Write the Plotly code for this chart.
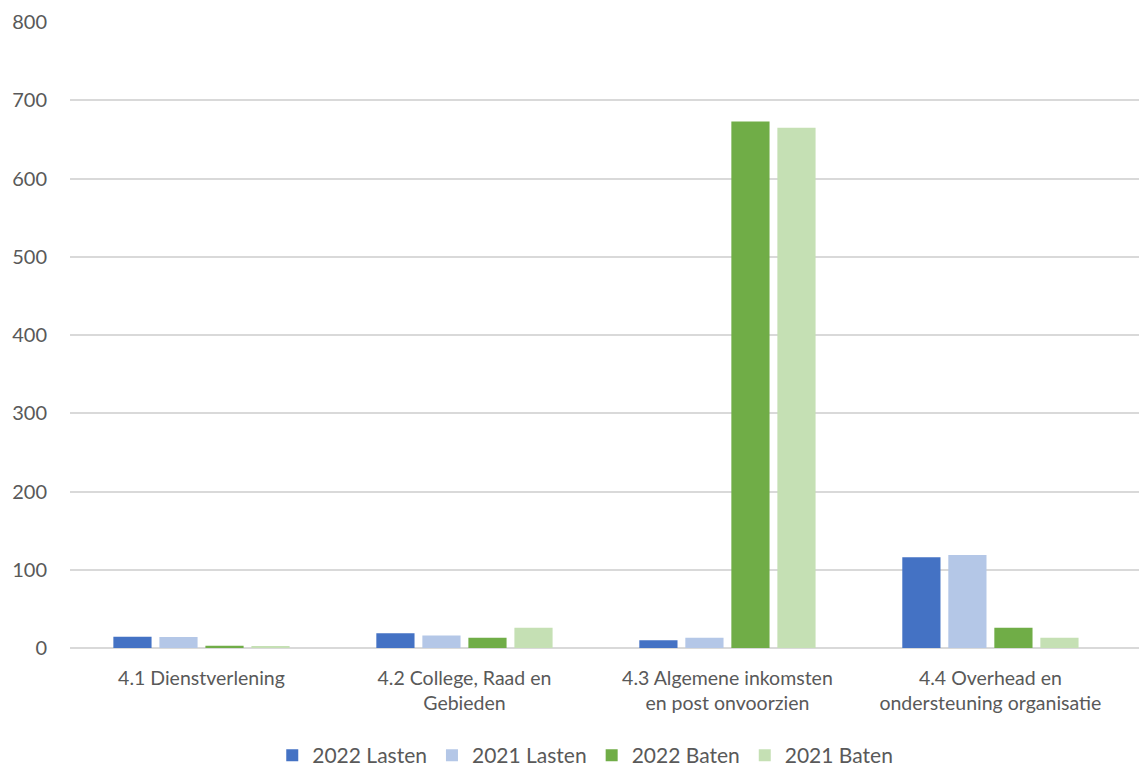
import plotly.graph_objects as go

categories = [
    "4.1 Dienstverlening",
    "4.2 College, Raad en<br>Gebieden",
    "4.3 Algemene inkomsten<br>en post onvoorzien",
    "4.4 Overhead en<br>ondersteuning organisatie",
]
series_names = ["2022 Lasten", "2021 Lasten", "2022 Baten", "2021 Baten"]
lasten_2022 = [14.5, 19, 10, 116]
lasten_2021 = [14, 16, 13, 119]
baten_2022 = [3, 13, 673, 26]
baten_2021 = [2.5, 26, 665, 13]
y_ticks = [0, 100, 200, 300, 400, 500, 600, 700, 800]

colors = ["#4472C4", "#B4C7E7", "#70AD47", "#C5E0B4"]
values = [lasten_2022, lasten_2021, baten_2022, baten_2021]

fig = go.Figure()
for name, vals, col in zip(series_names, values, colors):
    fig.add_trace(go.Bar(name=name, x=categories, y=vals, marker_color=col,
                         marker_line_width=0))

font_family = "Lato, 'Open Sans', sans-serif"
fig.update_layout(
    width=1139, height=771,
    paper_bgcolor="white", plot_bgcolor="white",
    margin=dict(l=70, r=0, t=22, b=123),
    barmode="group", bargap=0.30, bargroupgap=0.17,
    font=dict(family=font_family, color="#595959", size=19),
    legend=dict(orientation="h", x=0.482, xanchor="center",
                yref="container", y=0.02, yanchor="middle",
                font=dict(size=21, color="#595959"), traceorder="normal",
                itemwidth=30),
    showlegend=True,
)
fig.update_xaxes(range=[-0.5, 3.565], showgrid=False, showline=False, ticks="",
                 tickfont=dict(size=19.5, color="#595959"), tickangle=0,
                 ticklabelstandoff=16, automargin=False)
fig.update_yaxes(range=[0, 800], tickvals=y_ticks, showgrid=True, gridcolor="#D9D9D9",
                 gridwidth=1.5, zeroline=True, zerolinecolor="#D9D9D9", zerolinewidth=1.5,
                 showline=False, ticks="", ticklabelstandoff=22, automargin=False,
                 tickfont=dict(size=20, color="#595959"))

fig.write_html(
    "out.html",
    config={"displayModeBar": False},
    post_script="document.body.style.margin='0';document.body.style.overflow='hidden';",
)
